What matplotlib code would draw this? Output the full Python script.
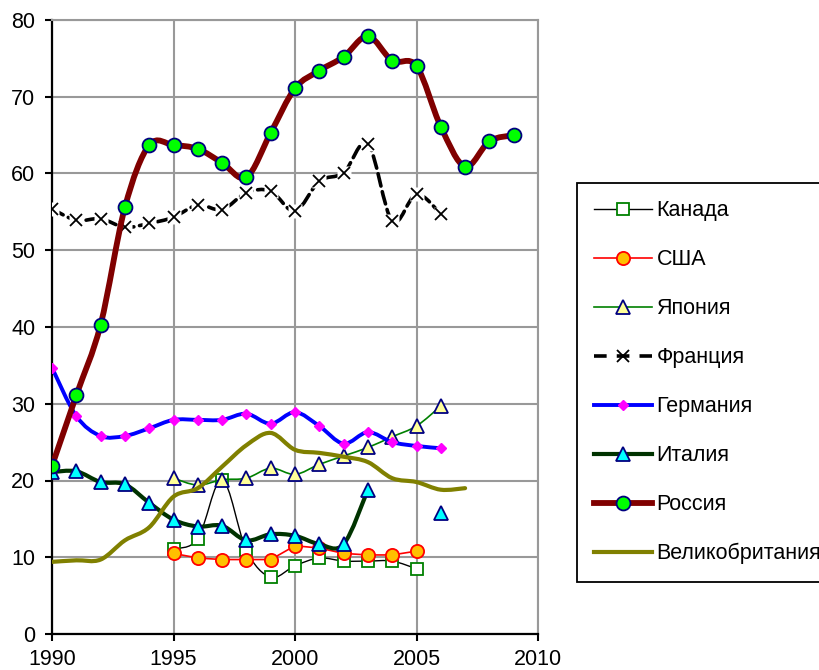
import matplotlib
matplotlib.use("Agg")
import matplotlib.pyplot as plt
from matplotlib.path import Path
from matplotlib.patches import PathPatch
from matplotlib.lines import Line2D

plt.rcParams['font.family'] = ['Liberation Sans', 'DejaVu Sans']

# data
canada_years = list(range(1995, 2006))
canada = [11.1, 12.4, 20.1, 10.9, 7.4, 8.9, 9.9, 9.5, 9.5, 9.5, 8.5]

usa_years = list(range(1995, 2006))
usa = [10.5, 9.9, 9.7, 9.7, 9.7, 11.5, 11.2, 10.5, 10.3, 10.3, 10.8]

japan_years = list(range(1995, 2007))
japan = [20.3, 19.4, 20.1, 20.3, 21.6, 20.8, 22.1, 23.2, 24.3, 25.7, 27.1, 29.7]

france_years = list(range(1990, 2007))
france = [55.4, 53.9, 54.1, 53.0, 53.5, 54.3, 55.9, 55.3, 57.5, 57.7, 55.1,
          59.0, 60.1, 63.9, 53.8, 57.3, 54.7]

germany_years = list(range(1990, 2007))
germany = [34.7, 28.4, 25.8, 25.8, 26.8, 27.9, 27.9, 27.9, 28.7, 27.4, 28.9,
           27.1, 24.8, 26.3, 25.0, 24.5, 24.2]

italy_years = list(range(1990, 2007))
italy = [21.1, 21.2, 19.8, 19.5, 17.1, 14.9, 14.0, 14.1, 12.2, 13.0, 12.8,
         11.7, 11.7, 18.8, None, None, 15.8]

russia_years = list(range(1990, 2010))
russia = [21.9, 31.1, 40.3, 55.6, 63.7, 63.7, 63.2, 61.4, 59.5, 65.3, 71.1,
          73.4, 75.2, 77.9, 74.7, 74.0, 66.1, 60.9, 64.2, 65.0]

uk_years = list(range(1990, 2008))
uk = [9.4, 9.6, 9.7, 12.2, 13.9, 17.9, 19.0, 21.8, 24.6, 26.2, 24.0, 23.6,
      23.1, 22.4, 20.3, 19.8, 18.8, 19.0]

labels = ['Канада', 'США', 'Япония', 'Франция', 'Германия', 'Италия',
          'Россия', 'Великобритания']


def runs(xs, ys):
    # split a series at missing values
    out, cur = [], []
    for x, y in zip(xs, ys):
        if y is None:
            if cur:
                out.append(cur)
            cur = []
        else:
            cur.append((x, y))
    if cur:
        out.append(cur)
    return out


def smooth_line(ax, xs, ys, **kw):
    # Excel-like smoothed line: Catmull-Rom segments as cubic Beziers
    for pts in runs(xs, ys):
        if len(pts) < 2:
            continue
        verts = [pts[0]]
        codes = [Path.MOVETO]
        n = len(pts)
        for i in range(n - 1):
            p0 = pts[i - 1] if i > 0 else pts[i]
            p1 = pts[i]
            p2 = pts[i + 1]
            p3 = pts[i + 2] if i + 2 < n else pts[i + 1]
            c1 = (p1[0] + (p2[0] - p0[0]) / 6, p1[1] + (p2[1] - p0[1]) / 6)
            c2 = (p2[0] - (p3[0] - p1[0]) / 6, p2[1] - (p3[1] - p1[1]) / 6)
            verts += [c1, c2, p2]
            codes += [Path.CURVE4] * 3
        patch = PathPatch(Path(verts, codes), facecolor='none',
                          capstyle='round', joinstyle='round', **kw)
        ax.add_patch(patch)


def markers(ax, xs, ys, **kw):
    pts = [(x, y) for x, y in zip(xs, ys) if y is not None]
    ax.plot([p[0] for p in pts], [p[1] for p in pts], linestyle='none', **kw)


fig = plt.figure(figsize=(8.2, 6.7), dpi=100)
ax = fig.add_axes([52 / 820, 1 - 634 / 670, 486 / 820, 614 / 670])

ax.set_xlim(1990, 2010)
ax.set_ylim(0, 80)
ax.set_xticks(range(1990, 2011, 5))
ax.set_yticks(range(0, 81, 10))
ax.grid(True, color='#999999', linewidth=1.5, zorder=0)
ax.set_axisbelow(True)
for s in ['left', 'bottom']:
    ax.spines[s].set_color('black')
    ax.spines[s].set_linewidth(1.6)
for s in ['right', 'top']:
    ax.spines[s].set_color('#999999')
    ax.spines[s].set_linewidth(1.5)
ax.tick_params(direction='out', length=5, width=1.5, labelsize=15.5)
ax.tick_params(axis='x', pad=6)
ax.tick_params(axis='y', pad=7)

# Канада
smooth_line(ax, canada_years, canada, edgecolor='black', linewidth=1.0, zorder=2)
markers(ax, canada_years, canada, marker='s', markersize=8.5,
        markerfacecolor='white', markeredgecolor='#008000', markeredgewidth=1.3, zorder=2.1)
# США
ax.plot(usa_years, usa, color='red', linewidth=1.2, zorder=3)
markers(ax, usa_years, usa, marker='o', markersize=9.5,
        markerfacecolor='#FFC000', markeredgecolor='red', markeredgewidth=1.3, zorder=3.1)
# Япония
smooth_line(ax, japan_years, japan, edgecolor='#008000', linewidth=1.2, zorder=4)
markers(ax, japan_years, japan, marker='^', markersize=10,
        markerfacecolor='#FFFF99', markeredgecolor='#000080', markeredgewidth=1.3, zorder=4.1)
# Франция
smooth_line(ax, france_years, france, edgecolor='black', linewidth=2.6,
            linestyle=(0, (3.5, 1.6)), zorder=5)
markers(ax, france_years, france, marker='s', markersize=10,
        markerfacecolor='white', markeredgecolor='none', zorder=5.05)
markers(ax, france_years, france, marker='x', markersize=9,
        markeredgecolor='black', markeredgewidth=1.3, zorder=5.1)
# Германия
smooth_line(ax, germany_years, germany, edgecolor='blue', linewidth=2.8, zorder=6)
markers(ax, germany_years, germany, marker='D', markersize=5.5,
        markerfacecolor='#FF00FF', markeredgecolor='#FF00FF', zorder=6.1)
# Италия
smooth_line(ax, italy_years, italy, edgecolor='#003300', linewidth=3.0, zorder=7)
markers(ax, italy_years, italy, marker='^', markersize=10,
        markerfacecolor='#00FFFF', markeredgecolor='#000080', markeredgewidth=1.3, zorder=7.1)
# Россия
smooth_line(ax, russia_years, russia, edgecolor='#800000', linewidth=4.2, zorder=8)
markers(ax, russia_years, russia, marker='o', markersize=10,
        markerfacecolor='#00FF00', markeredgecolor='#000080', markeredgewidth=1.3, zorder=8.1)
# Великобритания
smooth_line(ax, uk_years, uk, edgecolor='#808000', linewidth=3.0, zorder=9)

handles = [
    Line2D([], [], color='black', linewidth=1.0, marker='s', markersize=8.5,
           markerfacecolor='white', markeredgecolor='#008000', markeredgewidth=1.3),
    Line2D([], [], color='red', linewidth=1.2, marker='o', markersize=9.5,
           markerfacecolor='#FFC000', markeredgecolor='red', markeredgewidth=1.3),
    Line2D([], [], color='#008000', linewidth=1.2, marker='^', markersize=10,
           markerfacecolor='#FFFF99', markeredgecolor='#000080', markeredgewidth=1.3),
    Line2D([], [], color='black', linewidth=2.6, linestyle=(0, (3.5, 2.8)),
           marker='x', markersize=9, markeredgecolor='black', markeredgewidth=1.3),
    Line2D([], [], color='blue', linewidth=2.8, marker='D', markersize=5.5,
           markerfacecolor='#FF00FF', markeredgecolor='#FF00FF'),
    Line2D([], [], color='#003300', linewidth=3.0, marker='^', markersize=10,
           markerfacecolor='#00FFFF', markeredgecolor='#000080', markeredgewidth=1.3),
    Line2D([], [], color='#800000', linewidth=4.2, marker='o', markersize=10,
           markerfacecolor='#00FF00', markeredgecolor='#000080', markeredgewidth=1.3),
    Line2D([], [], color='#808000', linewidth=3.0),
]
leg = fig.legend(handles, labels, loc='upper left',
                 bbox_to_anchor=(577 / 820, 1 - 183 / 670),
                 fontsize=15.5, frameon=True, fancybox=False, framealpha=1,
                 handlelength=2.7, handletextpad=0.2, labelspacing=1.3,
                 borderpad=0.8, borderaxespad=0)
leg.get_frame().set_edgecolor('black')
leg.get_frame().set_linewidth(1.3)

fig.savefig('out.png', dpi=100)
